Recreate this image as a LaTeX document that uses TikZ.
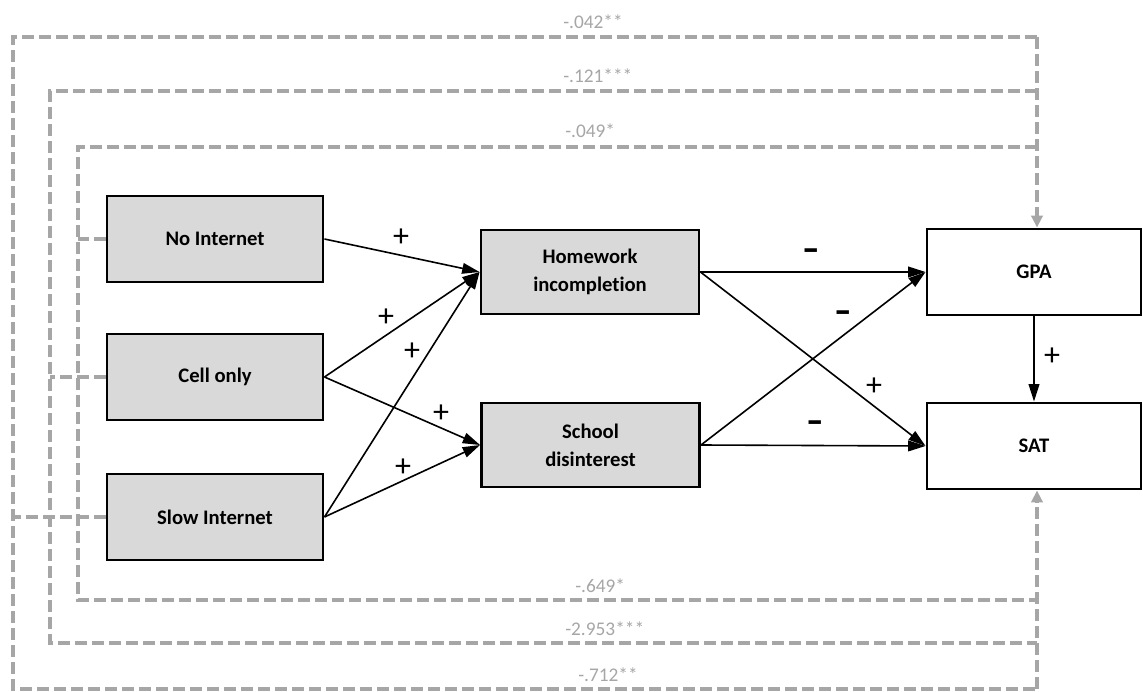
\documentclass[tikz,border=0pt]{standalone}
\usepackage{fontspec}
\setmainfont{Carlito}[Ligatures=NoCommon]
\usetikzlibrary{arrows.meta}
\definecolor{dgray}{HTML}{A6A6A6}
\definecolor{boxfill}{HTML}{D9D9D9}
\tikzset{
  box/.style={draw=black,line width=2.2pt,minimum width=162pt,minimum height=64.5pt,inner sep=0pt,align=center,font=\fontsize{15.5}{21}\selectfont\bfseries},
  ivbox/.style={box,fill=boxfill},
  medbox/.style={box,fill=boxfill,minimum width=163.5pt,minimum height=63pt},
  outbox/.style={box,fill=white,minimum width=160.5pt},
  arr/.style={line width=1.2pt,-{Triangle[length=13pt,width=8pt]}},
  gd/.style={draw=dgray,line width=3pt,dash pattern=on 9pt off 3.75pt},
  gdarr/.style={gd,-{Triangle[length=9pt,width=8.5pt]}},
  glabel/.style={text=dgray,font=\fontsize{14.5}{14.5}\selectfont,anchor=west,inner sep=0pt},
  plus/.style={font=\fontsize{24}{24}\selectfont,inner sep=0pt},
  minus/.style={inner sep=0pt}
}
\newcommand{\mysign}{\scalebox{1.25}[1.5]{\fontsize{21}{21}\selectfont\bfseries –}}
\begin{document}
\begin{tikzpicture}[x=0.75pt,y=-0.75pt]
\useasboundingbox (0,0) rectangle (1143,692);
% boxes
\node[ivbox] (ni) at (215,239) {No Internet};
\node[ivbox] (co) at (215,377) {Cell only};
\node[ivbox] (si) at (215,517) {Slow Internet};
\node[medbox] (hw) at (590,272) {Homework\\incompletion};
\node[medbox] (sd) at (590.5,445) {School\\disinterest};
\node[outbox] (gpa) at (1034,272) {GPA};
\node[outbox] (sat) at (1034,446) {SAT};
% black arrows
\draw[arr] (ni.east) -- (hw.west);
\draw[arr] (co.east) -- (hw.west);
\draw[arr] (si.east) -- (hw.west);
\draw[arr] (co.east) -- (sd.west);
\draw[arr] (si.east) -- (sd.west);
\draw[arr] (hw.east) -- (gpa.west);
\draw[arr] (hw.east) -- (sat.west);
\draw[arr] (sd.east) -- (gpa.west);
\draw[arr] (sd.east) -- (sat.west);
\draw[arr] (gpa.south) -- (sat.north);
% signs
\node[plus] (p1) at (401,238) {+};
\node[plus] (p2) at (386,318) {+};
\node[plus] (p3) at (412,352) {+};
\node[plus] (p4) at (441,414) {+};
\node[plus] (p5) at (403,468) {+};
\node[plus] (p6) at (874,387) {+};
\node[plus] (p7) at (1052,357) {+};
\node[minus] (m1) at (811,256) {\mysign};
\node[minus] (m2) at (843,318) {\mysign};
\node[minus] (m3) at (815,428) {\mysign};
% dashed frames
\coordinate (ta) at (13,37);  \coordinate (tb) at (1037,37);
\coordinate (ba) at (13,689); \coordinate (bb) at (1037,689);
\coordinate (tc) at (50,91);  \coordinate (td) at (1037,91);
\coordinate (bc) at (50,643); \coordinate (bd) at (1037,643);
\coordinate (te) at (78,147); \coordinate (tf) at (1037,147);
\coordinate (be) at (78,600); \coordinate (bf) at (1037,600);
\draw[gd] (tb) -- (ta) -- (ba) -- (bb);
\draw[gd] (td) -- (tc) -- (bc) -- (bd);
\draw[gd] (tf) -- (te) -- (be) -- (bf);
\draw[gd] (si.west) -- (si.west -| ta);
\draw[gd] (co.west) -- (co.west -| tc);
\draw[gd] (ni.west) -- (ni.west -| te);
\draw[gdarr] (tb) -- (tb |- gpa.north);
\draw[gdarr] (bb) -- (bb |- sat.south);
% coefficient labels
\node[glabel] (l1) at (563,22) {-.042**};
\node[glabel] (l2) at (563,76) {-.121***};
\node[glabel] (l3) at (565,131) {-.049*};
\node[glabel] (l4) at (575,586) {-.649*};
\node[glabel] (l5) at (565,629) {-2.953***};
\node[glabel] (l6) at (578,675) {-.712**};
\end{tikzpicture}
\end{document}
